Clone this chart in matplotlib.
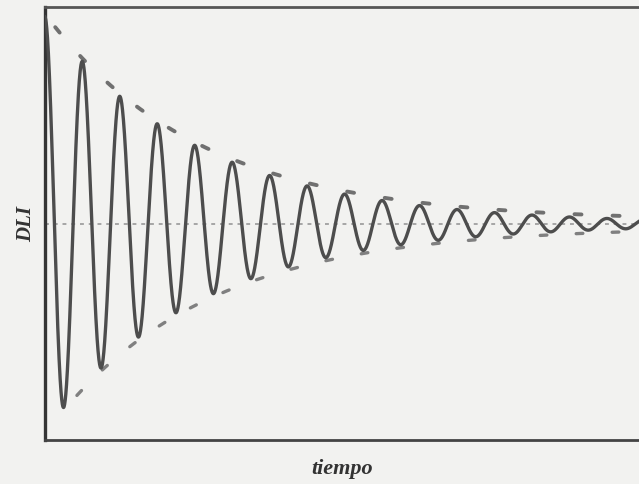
import matplotlib
matplotlib.use('Agg')
import matplotlib.pyplot as plt
import numpy as np

# values (time in oscillation periods, DLI in arbitrary units)
t_range = [0.0, 15.85]
dli_limits = [-216, 217]
amplitude_start = 207      # amplitude at t = 0
decay_periods = 4.13       # e-folding time of the envelope, in periods
period = 1.0
envelope_start = [0.27, 0.85]   # where the upper / lower dashed envelopes begin

fig = plt.figure(figsize=(6.39, 4.85), dpi=100)
fig.patch.set_facecolor('#f2f2f0')
ax = fig.add_axes([0.0704, 0.0907, 0.9296, 0.893])
ax.set_facecolor('#f2f2f0')

t = np.linspace(t_range[0], t_range[1], 4000)
env = amplitude_start * np.exp(-t / decay_periods)
signal = env * np.cos(2 * np.pi * t / period)

ax.axhline(0, color='#a5a5a5', lw=1.4, ls=(0, (2, 2.5)), zorder=1)

up = t >= envelope_start[0]
lo = t >= envelope_start[1]
ax.plot(t[up], env[up] + 3, color='#707070', lw=2.8, ls=(0, (1.8, 8.0)),
        dash_capstyle='round', zorder=2)
ax.plot(t[lo], -env[lo] - 3, color='#808080', lw=2.4, ls=(0, (2.0, 8.8)),
        dash_capstyle='round', zorder=2)

ax.plot(t, signal, color='#4d4d4d', lw=2.4, zorder=3)

ax.set_xlim(t_range)
ax.set_ylim(dli_limits)
ax.set_xticks([])
ax.set_yticks([])
ax.spines['left'].set_color('#353535')
ax.spines['left'].set_linewidth(2.4)
ax.spines['top'].set_color('#555555')
ax.spines['top'].set_linewidth(2.0)
ax.spines['bottom'].set_color('#444444')
ax.spines['bottom'].set_linewidth(2.0)
ax.spines['right'].set_visible(False)

ax.set_ylabel('DLI', fontsize=15, family='Liberation Serif', style='italic',
              weight='bold', color='#333333', labelpad=6)
ax.set_xlabel('tiempo', fontsize=16, family='Liberation Serif', style='italic',
              weight='bold', color='#333333', labelpad=13)

plt.savefig('out.png', dpi=100)
